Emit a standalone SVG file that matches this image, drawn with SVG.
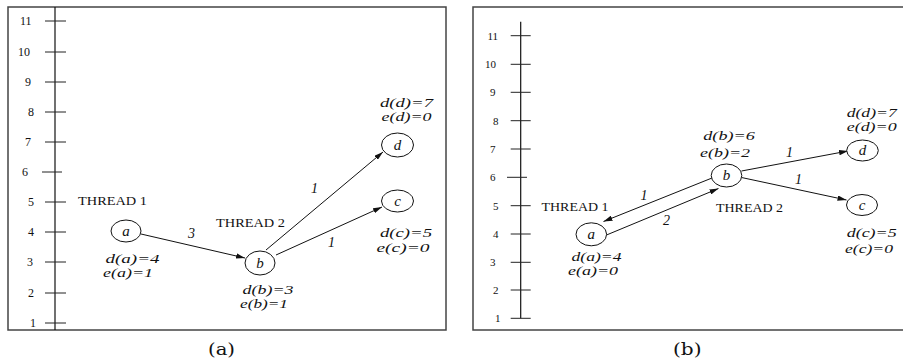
<svg xmlns="http://www.w3.org/2000/svg" width="903" height="364" viewBox="0 0 903 364">
<style>
.frame{fill:none;stroke:#444;stroke-width:1.5}
.axis{stroke:#111;stroke-width:1.2}
.tick{stroke:#222;stroke-width:1}
.num{font-family:"Liberation Serif",serif;font-size:12px;fill:#111}
.numr{font-family:"Liberation Serif",serif;font-size:11px;fill:#111}
.thr{font-family:"Liberation Serif",serif;font-size:13px;fill:#111}
.node ellipse{fill:#fff;stroke:#111;stroke-width:1}
.nl{font-family:"Liberation Serif",serif;font-style:italic;font-size:15px;fill:#111;text-anchor:middle}
.lab{font-family:"Liberation Serif",serif;font-style:italic;font-size:12.6px;fill:#111}
.el{font-family:"Liberation Serif",serif;font-style:italic;font-size:14px;fill:#111}
.edge{stroke:#111;stroke-width:1;fill:none;marker-end:url(#ah)}
.cap{font-family:"DejaVu Serif",serif;font-size:16px;fill:#111}
</style>
<defs>
<marker id="ah" viewBox="0 0 10 6" refX="10" refY="3" markerWidth="9" markerHeight="5.4" markerUnits="userSpaceOnUse" orient="auto">
<path d="M0,0 L10,3 L0,6 Z" fill="#111"/>
</marker>
</defs>
<rect width="903" height="364" fill="#fff"/>

<!-- Panel (a) -->
<g id="panel-a">
<rect class="frame" x="8" y="7" width="438" height="323"/>
<g id="axis-a">
<line class="axis" x1="55" y1="7" x2="55" y2="330"/>
<line class="tick" x1="45" y1="21" x2="66" y2="21"/>
<line class="tick" x1="45" y1="52" x2="66" y2="52"/>
<line class="tick" x1="45" y1="82" x2="66" y2="82"/>
<line class="tick" x1="45" y1="112" x2="66" y2="112"/>
<line class="tick" x1="45" y1="142" x2="66" y2="142"/>
<line class="tick" x1="42" y1="172" x2="62" y2="172"/>
<line class="tick" x1="45" y1="202" x2="66" y2="202"/>
<line class="tick" x1="45" y1="232" x2="66" y2="232"/>
<line class="tick" x1="45" y1="262" x2="66" y2="262"/>
<line class="tick" x1="45" y1="293" x2="66" y2="293"/>
<line class="tick" x1="45" y1="323" x2="66" y2="323"/>
<text class="num" x="20" y="25">11</text>
<text class="num" x="18" y="56">10</text>
<text class="num" x="25" y="86">9</text>
<text class="num" x="28" y="116">8</text>
<text class="num" x="25" y="146">7</text>
<text class="num" x="22" y="176">6</text>
<text class="num" x="28" y="206">5</text>
<text class="num" x="28" y="236">4</text>
<text class="num" x="27" y="266">3</text>
<text class="num" x="28" y="297">2</text>
<text class="num" x="30" y="327">1</text>
</g>
<text class="thr" x="78" y="205" textLength="69" lengthAdjust="spacingAndGlyphs">THREAD 1</text>
<text class="thr" x="216" y="226.5" textLength="69" lengthAdjust="spacingAndGlyphs">THREAD 2</text>
<g id="edges-a">
<line class="edge" x1="141" y1="234" x2="245" y2="258"/>
<line class="edge" x1="266" y1="250" x2="383" y2="152"/>
<line class="edge" x1="276" y1="255" x2="382" y2="207"/>
<text class="el" x="188" y="238">3</text>
<text class="el" x="311" y="193">1</text>
<text class="el" x="328" y="247">1</text>
</g>
<g id="a-node-a" class="node">
<ellipse cx="126" cy="231" rx="15" ry="11"/>
<text class="nl" x="126" y="235.5">a</text>
<text class="lab" x="105.5" y="263" textLength="54" lengthAdjust="spacingAndGlyphs">d(a)=4</text>
<text class="lab" x="103" y="277" textLength="50" lengthAdjust="spacingAndGlyphs">e(a)=1</text>
</g>
<g id="a-node-b" class="node">
<ellipse cx="260" cy="263" rx="15" ry="12"/>
<text class="nl" x="260" y="267.5">b</text>
<text class="lab" x="242.5" y="294" textLength="51" lengthAdjust="spacingAndGlyphs">d(b)=3</text>
<text class="lab" x="240" y="308" textLength="48" lengthAdjust="spacingAndGlyphs">e(b)=1</text>
</g>
<g id="a-node-d" class="node">
<ellipse cx="397.5" cy="145" rx="16" ry="12"/>
<text class="nl" x="397.5" y="149.5">d</text>
<text class="lab" x="380" y="106.5" textLength="53" lengthAdjust="spacingAndGlyphs">d(d)=7</text>
<text class="lab" x="381.5" y="120.5" textLength="50" lengthAdjust="spacingAndGlyphs">e(d)=0</text>
</g>
<g id="a-node-c" class="node">
<ellipse cx="397.5" cy="201" rx="16" ry="11"/>
<text class="nl" x="397.5" y="205.5">c</text>
<text class="lab" x="380" y="237" textLength="52" lengthAdjust="spacingAndGlyphs">d(c)=5</text>
<text class="lab" x="376.5" y="252" textLength="53" lengthAdjust="spacingAndGlyphs">e(c)=0</text>
</g>
<text class="cap" x="208" y="355" textLength="27" lengthAdjust="spacingAndGlyphs">(a)</text>
</g>

<!-- Panel (b) -->
<g id="panel-b">
<rect class="frame" x="473" y="7" width="445" height="323"/>
<g id="axis-b">
<line class="axis" x1="520.7" y1="21.7" x2="520.7" y2="318.3"/>
<line class="tick" x1="510.7" y1="35.7" x2="530.7" y2="35.7"/>
<line class="tick" x1="510.7" y1="64.3" x2="530.7" y2="64.3"/>
<line class="tick" x1="510.7" y1="92.3" x2="530.7" y2="92.3"/>
<line class="tick" x1="510.7" y1="120.7" x2="530.7" y2="120.7"/>
<line class="tick" x1="510.7" y1="149" x2="530.7" y2="149"/>
<line class="tick" x1="507" y1="177.3" x2="527" y2="177.3"/>
<line class="tick" x1="510.7" y1="205.7" x2="530.7" y2="205.7"/>
<line class="tick" x1="510.7" y1="234" x2="530.7" y2="234"/>
<line class="tick" x1="510.7" y1="262.3" x2="530.7" y2="262.3"/>
<line class="tick" x1="510.7" y1="290" x2="530.7" y2="290"/>
<line class="tick" x1="510.7" y1="318.3" x2="530.7" y2="318.3"/>
<text class="numr" x="487.5" y="39.5">11</text>
<text class="numr" x="485" y="68">10</text>
<text class="numr" x="490" y="96">9</text>
<text class="numr" x="493" y="124.5">8</text>
<text class="numr" x="490" y="153">7</text>
<text class="numr" x="490" y="181">6</text>
<text class="numr" x="493" y="209.5">5</text>
<text class="numr" x="493" y="238">4</text>
<text class="numr" x="490" y="266">3</text>
<text class="numr" x="493" y="294">2</text>
<text class="numr" x="495" y="322">1</text>
</g>
<text class="thr" x="541.5" y="211" textLength="67" lengthAdjust="spacingAndGlyphs">THREAD 1</text>
<text class="thr" x="716" y="211.7" textLength="67" lengthAdjust="spacingAndGlyphs">THREAD 2</text>
<g id="edges-b">
<line class="edge" x1="712" y1="178" x2="603.5" y2="221.5"/>
<line class="edge" x1="606.5" y1="235" x2="718.5" y2="188.5"/>
<line class="edge" x1="741.5" y1="171" x2="848" y2="151"/>
<line class="edge" x1="741.5" y1="177.5" x2="846.5" y2="200"/>
<text class="el" x="640.5" y="199.5">1</text>
<text class="el" x="663" y="225">2</text>
<text class="el" x="786" y="157">1</text>
<text class="el" x="795" y="184">1</text>
</g>
<g id="b-node-a" class="node">
<ellipse cx="591.3" cy="234.3" rx="15.3" ry="11.5"/>
<text class="nl" x="591.3" y="238.8">a</text>
<text class="lab" x="571.5" y="260.5" textLength="50" lengthAdjust="spacingAndGlyphs">d(a)=4</text>
<text class="lab" x="568" y="274.5" textLength="50" lengthAdjust="spacingAndGlyphs">e(a)=0</text>
</g>
<g id="b-node-b" class="node">
<ellipse cx="726.5" cy="175.5" rx="15.3" ry="11.5"/>
<text class="nl" x="726.5" y="180">b</text>
<text class="lab" x="703.3" y="140" textLength="51.5" lengthAdjust="spacingAndGlyphs">d(b)=6</text>
<text class="lab" x="700" y="156.5" textLength="50" lengthAdjust="spacingAndGlyphs">e(b)=2</text>
</g>
<g id="b-node-d" class="node">
<ellipse cx="862.5" cy="150.5" rx="15.8" ry="10.5"/>
<text class="nl" x="862.5" y="155">d</text>
<text class="lab" x="846.7" y="116.5" textLength="50" lengthAdjust="spacingAndGlyphs">d(d)=7</text>
<text class="lab" x="846.7" y="130.5" textLength="50" lengthAdjust="spacingAndGlyphs">e(d)=0</text>
</g>
<g id="b-node-c" class="node">
<ellipse cx="862" cy="205" rx="15.5" ry="10.5"/>
<text class="nl" x="862" y="209.5">c</text>
<text class="lab" x="846.7" y="237" textLength="50" lengthAdjust="spacingAndGlyphs">d(c)=5</text>
<text class="lab" x="845" y="253.3" textLength="48" lengthAdjust="spacingAndGlyphs">e(c)=0</text>
</g>
<text class="cap" x="673" y="355" textLength="28.5" lengthAdjust="spacingAndGlyphs">(b)</text>
</g>
</svg>
